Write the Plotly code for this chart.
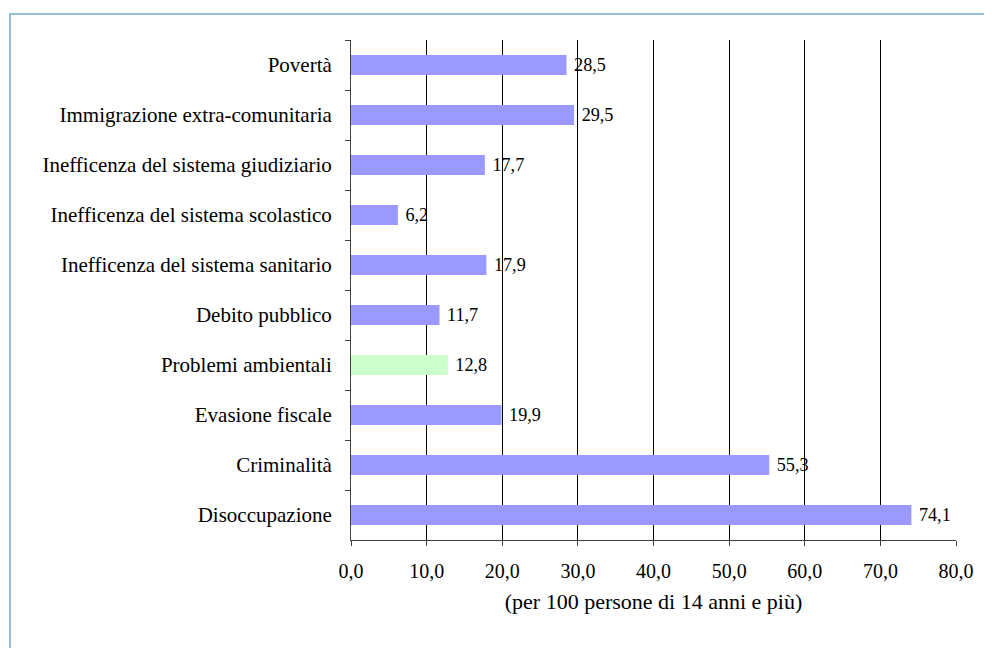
import plotly.graph_objects as go

categories = [
    "Povertà",
    "Immigrazione extra-comunitaria",
    "Inefficenza del sistema giudiziario",
    "Inefficenza del sistema scolastico",
    "Inefficenza del sistema sanitario",
    "Debito pubblico",
    "Problemi ambientali",
    "Evasione fiscale",
    "Criminalità",
    "Disoccupazione",
]
values = [28.5, 29.5, 17.7, 6.2, 17.9, 11.7, 12.8, 19.9, 55.3, 74.1]
highlight = "Problemi ambientali"
tick_values = [0, 10, 20, 30, 40, 50, 60, 70, 80]
x_title = "(per 100 persone di 14 anni e più)"

BLUE = "#9999FF"
GREEN = "#CCFFCC"
FONT = "Liberation Serif, Times New Roman, serif"

colors = [GREEN if c == highlight else BLUE for c in categories]

fig = go.Figure(
    go.Bar(
        x=values,
        y=categories,
        orientation="h",
        marker=dict(color=colors, line=dict(width=0)),
        width=0.4,
        texttemplate=" %{x:.1f}",
        textposition="outside",
        textfont=dict(family=FONT, size=20, color="black"),
        cliponaxis=False,
        hoverinfo="skip",
    )
)

# page has an 8px body margin; figure is sized to fill the rest
W, H = 984, 640
L, T = 343, 32
PW, PH = 605, 500

fig.update_layout(
    width=W,
    height=H,
    separators=",.",
    paper_bgcolor="white",
    plot_bgcolor="white",
    margin=dict(l=L, r=W - L - PW, t=T, b=H - T - PH),
    font=dict(family=FONT, size=20, color="black"),
    showlegend=False,
)

fig.update_xaxes(
    range=[0, 80],
    tickvals=tick_values,
    tickformat=".1f",
    showgrid=True,
    gridcolor="black",
    gridwidth=1,
    zeroline=False,
    showline=True,
    linecolor="#404040",
    linewidth=1,
    ticks="outside",
    ticklen=5,
    tickcolor="#404040",
    ticklabelstandoff=8,
    tickfont=dict(family=FONT, size=20),
    title=dict(text=x_title, font=dict(family=FONT, size=22), standoff=12),
)

fig.update_yaxes(
    autorange="reversed",
    showgrid=False,
    showline=True,
    linecolor="#404040",
    linewidth=1,
    ticks="outside",
    tickson="boundaries",
    ticklen=5,
    tickcolor="#404040",
    ticklabelstandoff=14,
    tickfont=dict(family=FONT, size=21),
)

# outer chart frame (extends beyond the right/bottom of the page)
fig.add_shape(
    type="rect",
    xref="paper", yref="paper",
    x0=(2 - L) / PW, x1=2.0,
    y0=-1.0, y1=(T + PH - 6) / PH,
    line=dict(color="#95BDD8", width=2),
    fillcolor="rgba(0,0,0,0)",
    layer="below",
)

fig.write_html("out.html")
